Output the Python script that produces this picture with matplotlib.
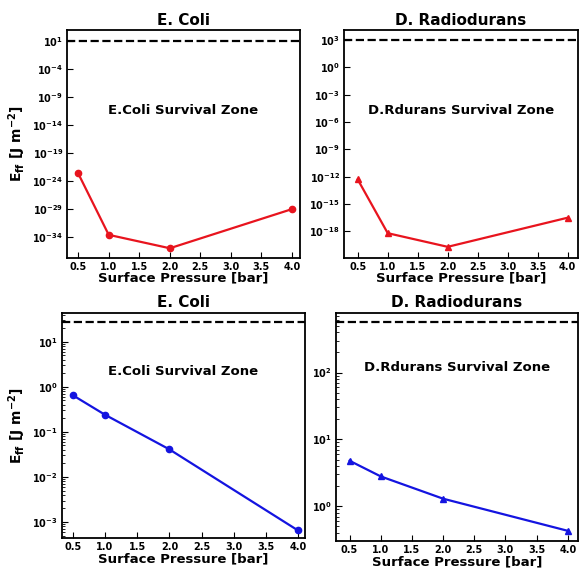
import numpy as np
import matplotlib.pyplot as plt

# pressures [bar]
pressure = [0.5, 1.0, 2.0, 4.0]

# top row (red)
ecoli_top = [10**-22.6, 10**-33.6, 10**-36.0, 10**-29.0]
drad_top = [10**-12.3, 10**-18.2, 10**-19.7, 10**-16.5]
ecoli_top_lim = 10**1
drad_top_lim = 10**3

# bottom row (blue)
ecoli_bot = [0.65, 0.24, 0.041, 6.5e-4]
drad_bot = [4.8, 2.8, 1.3, 0.43]
ecoli_bot_lim = 28.0
drad_bot_lim = 560.0

xticks = [0.5, 1.0, 1.5, 2.0, 2.5, 3.0, 3.5, 4.0]
ecoli_top_exp = [1, -4, -9, -14, -19, -24, -29, -34]
drad_top_exp = [3, 0, -3, -6, -9, -12, -15, -18]
ecoli_bot_exp = [1, 0, -1, -2, -3]
drad_bot_exp = [2, 1, 0]

fig = plt.figure(figsize=(5.79, 5.69), dpi=100)

ax1 = fig.add_axes([0.116, 0.547, 0.402, 0.400])
ax2 = fig.add_axes([0.594, 0.547, 0.404, 0.400])
ax3 = fig.add_axes([0.107, 0.054, 0.420, 0.396])
ax4 = fig.add_axes([0.580, 0.049, 0.418, 0.401])


def style(ax, title, zone, zone_y, xlim, exps):
    ax.set_yscale("log")
    ax.set_title(title, fontsize=11, fontweight="bold", pad=4)
    ax.set_xlabel("Surface Pressure [bar]", fontsize=9.5, fontweight="bold", labelpad=0)
    ax.set_xlim(*xlim)
    ax.set_xticks(xticks)
    ax.set_xticklabels(["%.1f" % t for t in xticks], fontweight="bold")
    ax.set_yticks([10.0**k for k in exps])
    ax.set_yticklabels([r"$\mathbf{10^{%d}}$" % k for k in exps])
    ax.tick_params(which="both", direction="in", top=False, right=False,
                   labelsize=7, pad=3)
    ax.tick_params(which="major", length=4)
    ax.tick_params(which="minor", length=2)
    for s in ax.spines.values():
        s.set_linewidth(1.3)
    ax.text(0.5, zone_y, zone, transform=ax.transAxes, ha="center", va="center",
            fontsize=9.5, fontweight="bold")


# top left
ax1.plot(pressure, ecoli_top, "-o", color="#e8141e", lw=1.6, ms=4.5)
ax1.axhline(ecoli_top_lim, color="k", ls="--", lw=1.6)
ax1.set_ylim(10**-37.7, 10**3.0)
style(ax1, "E. Coli", "E.Coli Survival Zone", 0.645, (0.32, 4.13), ecoli_top_exp)
ax1.minorticks_off()
ax1.set_ylabel(r"$\mathbf{E_{ff}}$ [J m$^{\mathbf{-2}}$]", fontsize=10,
               fontweight="bold", labelpad=3)

# top right
ax2.plot(pressure, drad_top, "-^", color="#e8141e", lw=1.6, ms=4.5)
ax2.axhline(drad_top_lim, color="k", ls="--", lw=1.6)
ax2.set_ylim(10**-20.9, 10**4.1)
style(ax2, "D. Radiodurans", "D.Rdurans Survival Zone", 0.645, (0.27, 4.17), drad_top_exp)
ax2.minorticks_off()

# bottom left
ax3.plot(pressure, ecoli_bot, "-o", color="#1414e0", lw=1.6, ms=4.5)
ax3.axhline(ecoli_bot_lim, color="k", ls="--", lw=1.6)
ax3.set_ylim(10**-3.36, 10**1.64)
style(ax3, "E. Coli", "E.Coli Survival Zone", 0.74, (0.33, 4.11), ecoli_bot_exp)
ax3.set_ylabel(r"$\mathbf{E_{ff}}$ [J m$^{\mathbf{-2}}$]", fontsize=10,
               fontweight="bold", labelpad=3)

# bottom right
ax4.plot(pressure, drad_bot, "-^", color="#1414e0", lw=1.6, ms=4.5)
ax4.axhline(drad_bot_lim, color="k", ls="--", lw=1.6)
ax4.set_ylim(10**-0.52, 10**2.89)
style(ax4, "D. Radiodurans", "D.Rdurans Survival Zone", 0.76, (0.28, 4.16), drad_bot_exp)

fig.savefig("out.png", dpi=100)
